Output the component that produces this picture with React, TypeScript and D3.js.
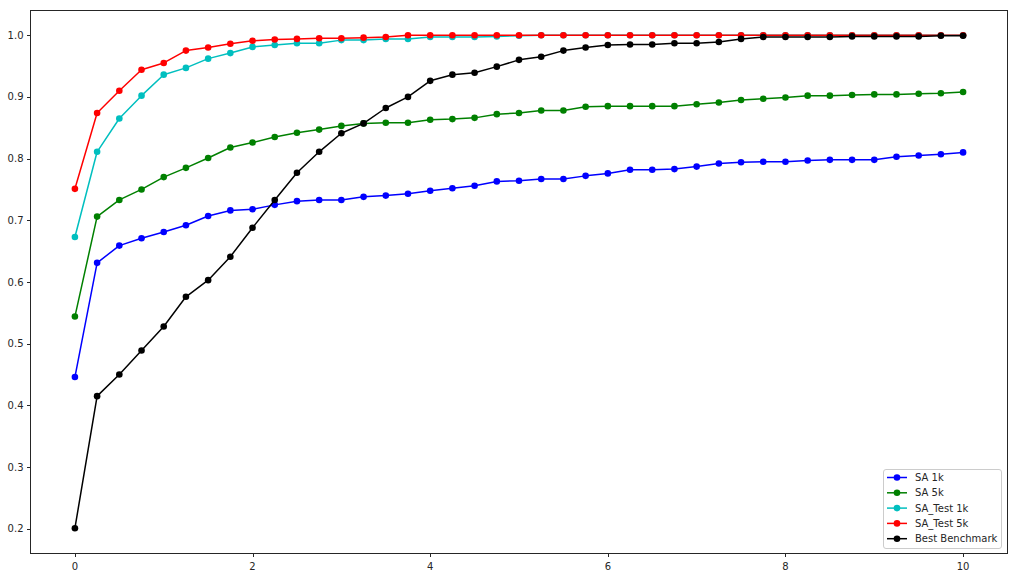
import React, { useEffect, useRef } from "react";
import * as d3 from "d3";

const xValues = d3.range(0, 41).map((i) => i * 0.25);

const sa1k = [0.446, 0.631, 0.659, 0.671, 0.681, 0.692, 0.707, 0.716, 0.718, 0.725, 0.731, 0.733, 0.733,
  0.738, 0.740, 0.743, 0.748, 0.752, 0.756, 0.763, 0.764, 0.767, 0.767, 0.772, 0.776, 0.782, 0.782,
  0.783, 0.787, 0.792, 0.794, 0.795, 0.795, 0.797, 0.798, 0.798, 0.798, 0.803, 0.805, 0.807, 0.810];

const sa5k = [0.544, 0.706, 0.733, 0.750, 0.770, 0.785, 0.801, 0.818, 0.826, 0.835, 0.842, 0.847, 0.853,
  0.857, 0.858, 0.858, 0.863, 0.864, 0.866, 0.872, 0.874, 0.878, 0.878, 0.884, 0.885, 0.885, 0.885,
  0.885, 0.888, 0.891, 0.895, 0.897, 0.899, 0.902, 0.902, 0.903, 0.904, 0.904, 0.905, 0.906, 0.908];

const saTest1k = [0.673, 0.811, 0.865, 0.902, 0.936, 0.947, 0.962, 0.971, 0.981, 0.984, 0.987, 0.987, 0.992,
  0.992, 0.994, 0.994, 0.997, 0.997, 0.997, 0.998, 0.999, 1.0, 1.0, 1.0, 1.0, 1.0, 1.0,
  1.0, 1.0, 1.0, 1.0, 1.0, 1.0, 1.0, 1.0, 1.0, 1.0, 1.0, 1.0, 1.0, 1.0];

const saTest5k = [0.751, 0.874, 0.910, 0.944, 0.955, 0.975, 0.980, 0.986, 0.991, 0.993, 0.994, 0.995, 0.995,
  0.996, 0.997, 1.0, 1.0, 1.0, 1.0, 1.0, 1.0, 1.0, 1.0, 1.0, 1.0, 1.0, 1.0,
  1.0, 1.0, 1.0, 1.0, 1.0, 1.0, 1.0, 1.0, 1.0, 1.0, 1.0, 1.0, 1.0, 1.0];

const bestBenchmark = [0.201, 0.415, 0.450, 0.489, 0.528, 0.576, 0.603, 0.641, 0.688, 0.733, 0.777, 0.811, 0.841,
  0.857, 0.882, 0.900, 0.926, 0.936, 0.939, 0.949, 0.960, 0.965, 0.975, 0.980, 0.984, 0.985, 0.985,
  0.987, 0.987, 0.989, 0.994, 0.997, 0.997, 0.997, 0.997, 0.998, 0.998, 0.998, 0.998, 0.999, 0.999];

const seriesNames = ["SA 1k", "SA 5k", "SA_Test 1k", "SA_Test 5k", "Best Benchmark"];
const seriesColors = ["#0000ff", "#008000", "#00bfbf", "#ff0000", "#000000"];
const seriesValues = [sa1k, sa5k, saTest1k, saTest5k, bestBenchmark];

const xTicks = [0, 2, 4, 6, 8, 10];
const yTicks = [0.2, 0.3, 0.4, 0.5, 0.6, 0.7, 0.8, 0.9, 1.0];

const W = 1017;
const H = 578;
const M = { left: 30.5, top: 10.5, right: 1007.5, bottom: 553.5 };

export default function App() {
  const ref = useRef<SVGSVGElement>(null);

  useEffect(() => {
    const svg = d3.select(ref.current);
    svg.selectAll("*").remove();
    const font = "'DejaVu Sans', sans-serif";
    const ink = "#262626";

    const x = d3.scaleLinear().domain([-0.5, 10.5]).range([M.left, M.right]);
    const y = d3.scaleLinear().domain([0.16, 1.04]).range([M.bottom, M.top]);

    svg.append("rect").attr("width", W).attr("height", H).attr("fill", "#fff");

    const line = d3
      .line<number>()
      .x((_, i) => x(xValues[i]))
      .y((d) => y(d));

    seriesValues.forEach((vals, si) => {
      const g = svg.append("g");
      g.append("path")
        .attr("d", line(vals) as string)
        .attr("fill", "none")
        .attr("stroke", seriesColors[si])
        .attr("stroke-width", 1.5)
        .attr("stroke-linejoin", "round");
      g.selectAll("circle")
        .data(vals)
        .enter()
        .append("circle")
        .attr("cx", (_, i) => x(xValues[i]))
        .attr("cy", (d) => y(d))
        .attr("r", 3.3)
        .attr("fill", seriesColors[si]);
    });

    // frame
    svg.append("rect")
      .attr("x", M.left)
      .attr("y", M.top)
      .attr("width", M.right - M.left)
      .attr("height", M.bottom - M.top)
      .attr("fill", "none")
      .attr("stroke", ink)
      .attr("stroke-width", 1);

    // x ticks
    const xg = svg.append("g");
    xTicks.forEach((t) => {
      const px = Math.round(x(t)) + 0.5;
      xg.append("line")
        .attr("x1", px).attr("x2", px)
        .attr("y1", M.bottom).attr("y2", M.bottom + 3.5)
        .attr("stroke", ink).attr("stroke-width", 1);
      xg.append("text")
        .attr("x", x(t)).attr("y", M.bottom + 16)
        .attr("text-anchor", "middle")
        .attr("font-family", font).attr("font-size", 10)
        .attr("fill", ink)
        .text(String(t));
    });

    // y ticks
    const yg = svg.append("g");
    yTicks.forEach((t) => {
      const py = Math.round(y(t)) + 0.5;
      yg.append("line")
        .attr("x1", M.left - 3.5).attr("x2", M.left)
        .attr("y1", py).attr("y2", py)
        .attr("stroke", ink).attr("stroke-width", 1);
      yg.append("text")
        .attr("x", M.left - 7).attr("y", y(t))
        .attr("dy", "0.35em")
        .attr("text-anchor", "end")
        .attr("font-family", font).attr("font-size", 10)
        .attr("fill", ink)
        .text(t.toFixed(1));
    });

    // legend
    const lg = svg.append("g");
    lg.append("rect")
      .attr("x", 883.5).attr("y", 469.5)
      .attr("width", 118).attr("height", 79)
      .attr("rx", 2.5)
      .attr("fill", "#fff").attr("fill-opacity", 0.8)
      .attr("stroke", "#cccccc").attr("stroke-width", 1);
    seriesNames.forEach((name, i) => {
      const yy = 477.5 + i * 15.3;
      lg.append("line")
        .attr("x1", 887).attr("x2", 907)
        .attr("y1", yy).attr("y2", yy)
        .attr("stroke", seriesColors[i]).attr("stroke-width", 1.5);
      lg.append("circle")
        .attr("cx", 897).attr("cy", yy).attr("r", 3.3)
        .attr("fill", seriesColors[i]);
      lg.append("text")
        .attr("x", 915).attr("y", yy)
        .attr("dy", "0.35em")
        .attr("font-family", font).attr("font-size", 10)
        .attr("fill", ink)
        .text(name);
    });
  }, []);

  return (
    <svg
      ref={ref}
      width={W}
      height={H}
      style={{ position: "absolute", left: 0, top: 0, display: "block" }}
    />
  );
}
